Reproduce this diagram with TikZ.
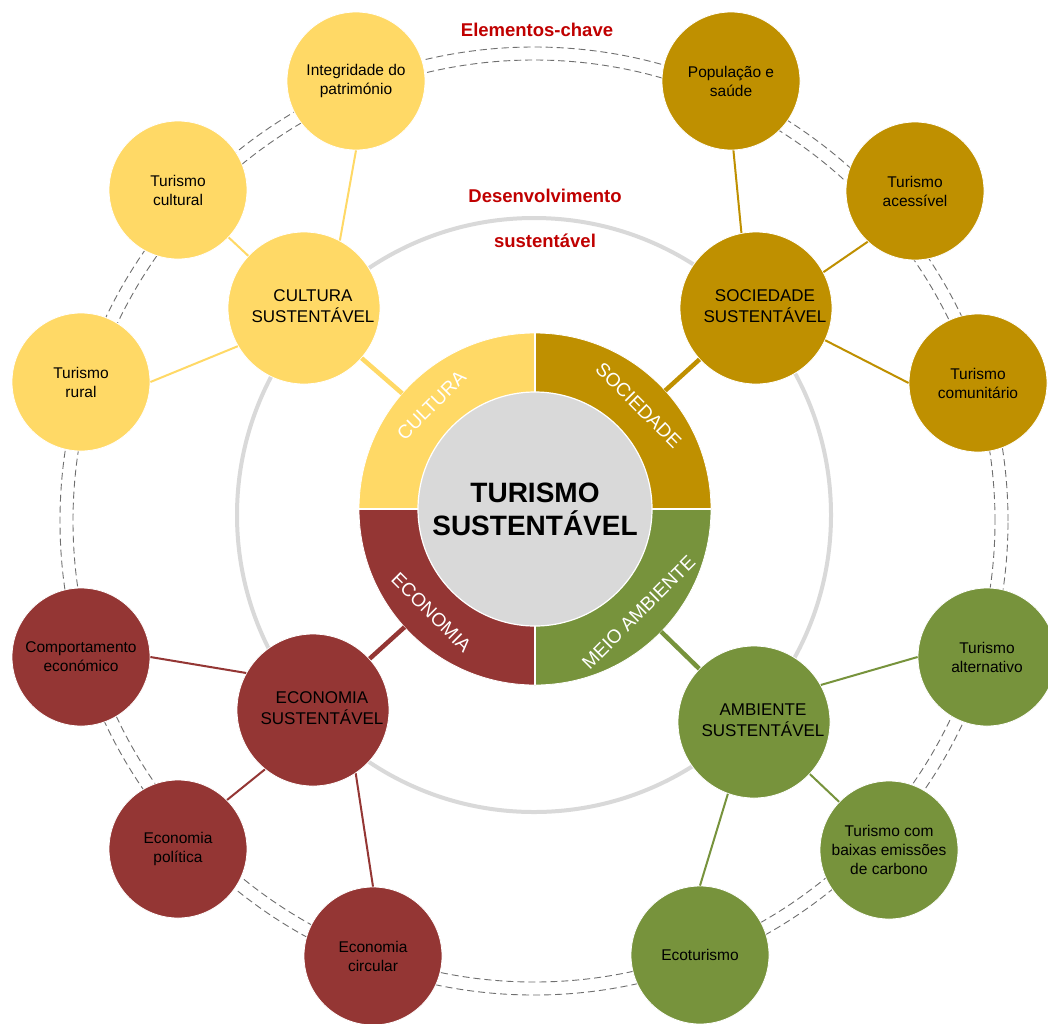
\documentclass[tikz,border=0pt]{standalone}
\usepackage{fontspec}
\setmainfont{Liberation Sans}
\usetikzlibrary{calc}
\definecolor{cYel}{HTML}{FFD966}
\definecolor{cGold}{HTML}{BF9000}
\definecolor{cRed}{HTML}{943634}
\definecolor{cGrn}{HTML}{77933C}
\definecolor{cGray}{HTML}{D9D9D9}
\definecolor{cTitle}{HTML}{C00000}
\definecolor{cDash}{HTML}{6F6F6F}
% two-line pillar caption, set slightly right of and below the circle centre
\newcommand\pillartext[2]{\hspace*{18pt}\raisebox{-2pt}{\begin{tabular}{@{}c@{}}#1\\#2\end{tabular}}}

\begin{document}
\begin{tikzpicture}[x=1pt,y=1pt,
  small/.style={circle, minimum size=138pt, inner sep=0pt, draw=white, line width=0.8pt,
    align=center, text=black, font=\fontsize{15.5}{19}\selectfont},
  medium/.style={circle, minimum size=152pt, inner sep=0pt, draw=white, line width=0.8pt,
    text=black, font=\fontsize{17}{21}\selectfont},
  link/.style={line width=2pt},
  spoke/.style={line width=4.5pt},
  ringlabel/.style={text=white, font=\fontsize{19}{21}\selectfont},
  keytitle/.style={text=cTitle, font=\bfseries\fontsize{18.5}{22}\selectfont},
  orbit/.style={draw=cDash, line width=0.9pt, dash pattern=on 7pt off 4pt},
]
% canvas
\fill[white] (0,0) rectangle (1048,-1023);
\useasboundingbox (0,0) rectangle (1048,-1023);

% centres
\coordinate (C) at (535,-509);
\coordinate (O) at (534,-521);
\coordinate (G) at (534,-515);

% double dashed orbit of key elements
\draw[orbit] (O) circle[radius=474];
\draw[orbit] (O) circle[radius=461];

% sustainable development ring
\draw[cGray, line width=4pt] (G) circle[radius=297];

% titles
\node[keytitle] (tkey) at (537,-30) {Elementos-chave};
\node[keytitle] (tdev1) at (545,-196) {Desenvolvimento};
\node[keytitle] (tdev2) at (545,-241) {sustentável};

% four pillars (medium circles)
\node[medium, fill=cYel]  (cultS) at (304,-308) {\pillartext{CULTURA}{SUSTENTÁVEL}};
\node[medium, fill=cGold] (socS)  at (756,-308) {\pillartext{SOCIEDADE}{SUSTENTÁVEL}};
\node[medium, fill=cRed]  (ecoS)  at (313,-710) {\pillartext{ECONOMIA}{SUSTENTÁVEL}};
\node[medium, fill=cGrn]  (ambS)  at (754,-722) {\pillartext{AMBIENTE}{SUSTENTÁVEL}};

% key elements (small circles)
\node[small, fill=cYel]  (integ)  at (356,-81)  {Integridade do\\património};
\node[small, fill=cYel]  (tcult)  at (178,-190) {Turismo\\cultural};
\node[small, fill=cYel]  (trural) at (81,-382)  {Turismo\\rural};
\node[small, fill=cGold] (pop)    at (731,-81)  {População e\\saúde};
\node[small, fill=cGold] (tace)   at (915,-191) {Turismo\\acessível};
\node[small, fill=cGold] (tcom)   at (978,-383) {Turismo\\comunitário};
\node[small, fill=cRed]  (comp)   at (81,-657)  {Comportamento\\económico};
\node[small, fill=cRed]  (pol)    at (178,-849) {Economia\\política};
\node[small, fill=cRed]  (circ)   at (373,-956) {Economia\\circular};
\node[small, fill=cGrn]  (alt)    at (987,-657) {Turismo\\alternativo};
\node[small, fill=cGrn]  (baix)   at (889,-850) {Turismo com\\baixas emissões\\de carbono};
\node[small, fill=cGrn]  (ecot)   at (700,-955) {Ecoturismo};

% links between pillars and key elements
\draw[link, cYel]  (integ.-90) -- (cultS.62);
\draw[link, cYel]  (tcult) -- (cultS);
\draw[link, cYel]  (trural.0) -- (cultS.210);
\draw[link, cGold] (pop.-88) -- (socS.101);
\draw[link, cGold] (tace.227) -- (socS.28);
\draw[link, cGold] (socS.-25) -- (tcom.180);
\draw[link, cRed]  (comp.0) -- (ecoS.151);
\draw[link, cRed]  (pol.45) -- (ecoS.231);
\draw[link, cRed]  (ecoS.-56) -- (circ.90);
\draw[link, cGrn]  (alt.180) -- (ambS.29);
\draw[link, cGrn]  (ambS.-43) -- (baix.136);
\draw[link, cGrn]  (ambS.-110) -- (ecot.90);

% central ring, four quadrants
\fill[cGold] (C) -- ++(0:176) arc[start angle=0, end angle=90, radius=176] -- cycle;
\fill[cYel]  (C) -- ++(90:176) arc[start angle=90, end angle=180, radius=176] -- cycle;
\fill[cRed]  (C) -- ++(180:176) arc[start angle=180, end angle=270, radius=176] -- cycle;
\fill[cGrn]  (C) -- ++(270:176) arc[start angle=270, end angle=360, radius=176] -- cycle;
\draw[white, line width=0.8pt] (C) circle[radius=176];
\draw[white, line width=1.6pt] ($(C)+(-176,0)$) -- ($(C)+(176,0)$);
\draw[white, line width=1.6pt] ($(C)+(0,-176)$) -- ($(C)+(0,176)$);

% spokes from ring to pillars
\coordinate (rcul) at ($(C)!176pt!(cultS)$);
\coordinate (rsoc) at ($(C)!176pt!(socS)$);
\coordinate (reco) at ($(C)!176pt!(ecoS)$);
\coordinate (ramb) at ($(C)!176pt!(ambS)$);
\draw[spoke, cYel]  (rcul) -- (cultS);
\draw[spoke, cGold] (rsoc) -- (socS);
\draw[spoke, cRed]  (reco) -- (ecoS);
\draw[spoke, cGrn]  (ramb) -- (ambS);

% ring labels
\path (C) ++(135:146.5) node[ringlabel, rotate=45]  (lcul) {CULTURA};
\path (C) ++(45:146.5)  node[ringlabel, rotate=-45] (lsoc) {SOCIEDADE};
\path (C) ++(225:146.5) node[ringlabel, rotate=-45] (leco) {ECONOMIA};
\path (C) ++(315:146.5) node[ringlabel, rotate=45]  (lamb) {MEIO AMBIENTE};

% centre
\node[circle, minimum size=234pt, inner sep=0pt, fill=cGray, draw=white, line width=1.2pt,
  align=center, font=\bfseries\fontsize{28}{33}\selectfont] (core) at (C)
  {TURISMO\\SUSTENTÁVEL};
\end{tikzpicture}
\end{document}
